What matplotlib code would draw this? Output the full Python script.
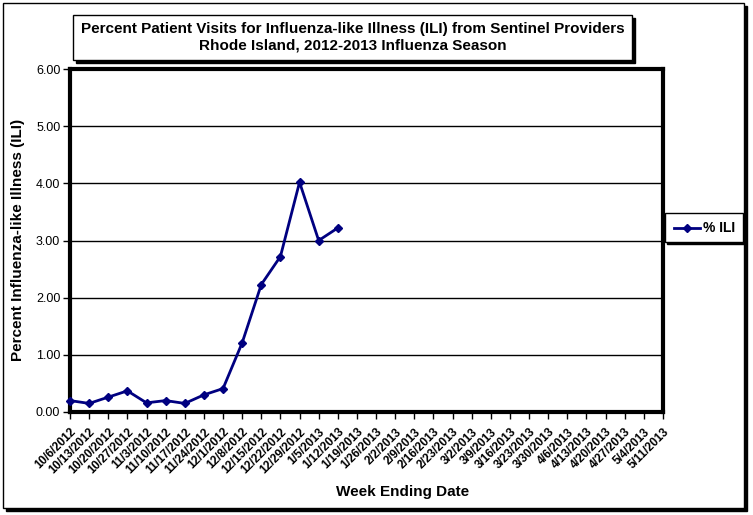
#Percent patient visits for ILI, Rhode Island 2012-2013 season
import matplotlib
matplotlib.use('Agg')
import matplotlib.pyplot as plt
from matplotlib import font_manager
from matplotlib.patches import Rectangle
from matplotlib.lines import Line2D

#Week ending dates on the x axis
weeks = ['10/6/2012', '10/13/2012', '10/20/2012', '10/27/2012', '11/3/2012',
         '11/10/2012', '11/17/2012', '11/24/2012', '12/1/2012', '12/8/2012',
         '12/15/2012', '12/22/2012', '12/29/2012', '1/5/2013', '1/12/2013',
         '1/19/2013', '1/26/2013', '2/2/2013', '2/9/2013', '2/16/2013',
         '2/23/2013', '3/2/2013', '3/9/2013', '3/16/2013', '3/23/2013',
         '3/30/2013', '4/6/2013', '4/13/2013', '4/20/2013', '4/27/2013',
         '5/4/2013', '5/11/2013']

#% ILI reported so far
ili = [0.20, 0.15, 0.26, 0.37, 0.16, 0.20, 0.15, 0.30, 0.41, 1.21,
       2.23, 2.72, 4.02, 3.00, 3.22]

yticks = [0, 1, 2, 3, 4, 5, 6]

names = {f.name for f in font_manager.fontManager.ttflist}
narrow = 'Liberation Sans Narrow' if 'Liberation Sans Narrow' in names else 'Liberation Sans'
plt.rcParams['font.family'] = ['Liberation Sans', 'DejaVu Sans']

W, H = 753, 515
fig = plt.figure(figsize=(W/100, H/100), dpi=100)

#pixel (from top left) to figure fraction
def fx(x):
    return x / W
def fy(y):
    return 1 - y / H

zlevel = [0]
def box(x0, y0, x1, y1, lw=1.0, shadow=3):
    z = zlevel[0]
    if shadow:
        fig.patches.append(Rectangle((fx(x0+shadow), fy(y1+shadow)), (x1-x0)/W, (y1-y0)/H,
                                     transform=fig.transFigure, facecolor='black',
                                     edgecolor='black', lw=lw, zorder=z))
    fig.patches.append(Rectangle((fx(x0), fy(y1)), (x1-x0)/W, (y1-y0)/H,
                                 transform=fig.transFigure, facecolor='white',
                                 edgecolor='black', lw=lw, zorder=z+0.5))
    zlevel[0] += 1

#outer frame
box(3, 3, 744, 508, lw=1.0, shadow=3)

#plot area
left, top, right, bottom = 70, 69, 663, 412
ax = fig.add_axes([fx(left), fy(bottom), (right-left)/W, (bottom-top)/H])
ax.set_zorder(2)
x = list(range(len(ili)))
ax.plot(x, ili, color='#000080', lw=2, marker='D', markersize=4.5, clip_on=False, zorder=3)
ax.set_xlim(0, len(weeks)-1)
ax.set_ylim(0, 6)
ax.set_yticks(yticks)
ax.set_yticklabels(['%.2f' % v for v in yticks], fontsize=9)
ax.set_xticks(range(len(weeks)))
ax.set_xticklabels(weeks, fontsize=8.5, fontweight='bold', rotation=45, ha='right', va='top',
                   rotation_mode='anchor')
ax.tick_params(axis='both', direction='out', length=5, width=1, color='black')
ax.tick_params(axis='x', pad=5)
ax.tick_params(axis='y', pad=2)
for s in ax.spines.values():
    s.set_linewidth(3)
ax.yaxis.grid(True, color='black', lw=1)
ax.set_axisbelow(True)

#title box
box(73, 15, 632, 60, lw=1.0, shadow=3)
fig.text(fx(353), fy(37), 'Percent Patient Visits for Influenza-like Illness (ILI) from Sentinel Providers\n'
         'Rhode Island, 2012-2013 Influenza Season', ha='center', va='center',
         fontsize=11, fontweight='bold', family=narrow, linespacing=1.25, zorder=10)

fig.text(fx(18), fy(240), 'Percent Influenza-like Illness (ILI)', rotation=90, ha='center',
         va='center', fontsize=11, fontweight='bold')
fig.text(fx(403), fy(492), 'Week Ending Date', ha='center', va='center',
         fontsize=11, fontweight='bold')

#legend
box(665, 213, 743, 242, lw=1.0, shadow=2)
fig.lines.append(Line2D([fx(674), fx(700)], [fy(228), fy(228)], transform=fig.transFigure,
                        color='#000080', lw=2, zorder=10))
fig.lines.append(Line2D([fx(687)], [fy(228)], transform=fig.transFigure, color='#000080',
                        marker='D', markersize=4.5, zorder=11))
fig.text(fx(703), fy(228), '% ILI', ha='left', va='center', fontsize=10, fontweight='bold', zorder=10)

fig.savefig('out.png', dpi=100)
